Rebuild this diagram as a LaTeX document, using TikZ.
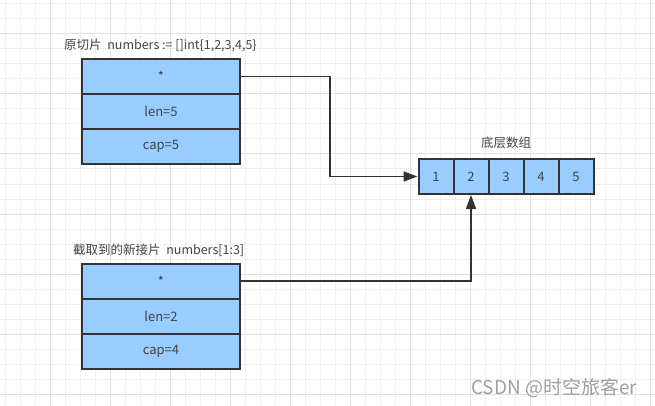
\documentclass[tikz,border=0pt]{standalone}
\usepackage{fontspec}
\setmainfont{Noto Sans CJK SC}
\usetikzlibrary{arrows.meta}
\definecolor{linegray}{HTML}{333333}
\definecolor{textgray}{HTML}{444444}
\definecolor{boxblue}{HTML}{99CCFF}
\definecolor{gridminor}{HTML}{EFEFEF}
\definecolor{gridmajor}{HTML}{E0E0E0}
\tikzset{
  field/.style={draw=linegray, fill=boxblue, line width=2pt, text=textgray,
    minimum width=158, minimum height=35, inner sep=0pt,
    font=\fontsize{13}{15}\selectfont},
  elem/.style={field, minimum width=35},
  caption/.style={text=textgray, inner sep=0pt, font=\fontsize{12.5}{15}\selectfont},
  link/.style={draw=linegray, line width=1.6pt, -{Triangle[length=14pt,width=10pt]}}
}
\begin{document}
\begin{tikzpicture}[x=1pt,y=-1pt]
  \useasboundingbox (0,0) rectangle (655,406);
  \fill[white] (0,0) rectangle (655,406);
  % background grid
  \foreach \gx in {5,20,...,650}
    \draw[gridminor, line width=1pt] (\gx,0) -- (\gx,406);
  \foreach \gy in {4,19,...,400}
    \draw[gridminor, line width=1pt] (0,\gy) -- (655,\gy);
  \foreach \gx in {50,110,...,650}
    \draw[gridmajor, line width=1pt] (\gx,0) -- (\gx,406);
  \foreach \gy in {34,94,...,400}
    \draw[gridmajor, line width=1pt] (0,\gy) -- (655,\gy);

  \node[caption, anchor=west] (t1) at (64,45) {原切片\ \ numbers := []int\{1,2,3,4,5\}};
  \node[caption, anchor=west] (t2) at (73,250) {截取到的新接片\ \ numbers[1:3]};
  \node[caption] (t3) at (506,143) {底层数组};

  \draw
    (161,76.5) node[field] (p){\raisebox{-0.25ex}{*}}
    (161,111.5) node[field] (plen){len=5}
    (161,146.5) node[field] (pcap){cap=5};
  \draw
    (161,281) node[field] (q){\raisebox{-0.25ex}{*}}
    (161,316) node[field] (qlen){len=2}
    (161,351) node[field] (qcap){cap=4};
  \draw
    (436,176.5) node[elem] (a1){1}
    (471,176.5) node[elem] (a2){2}
    (506,176.5) node[elem] (a3){3}
    (541,176.5) node[elem] (a4){4}
    (576,176.5) node[elem] (a5){5};

  \begin{scope}[link]
    \draw (p.east) -- ++(89,0) |- (a1.west);
    \draw (q.east) -| (a2.south);
  \end{scope}

  \node[anchor=west, inner sep=0pt, text=gray!75, font=\fontsize{19}{21}\selectfont]
    (mark) at (471,388) {CSDN @时空旅客er};
\end{tikzpicture}
\end{document}
